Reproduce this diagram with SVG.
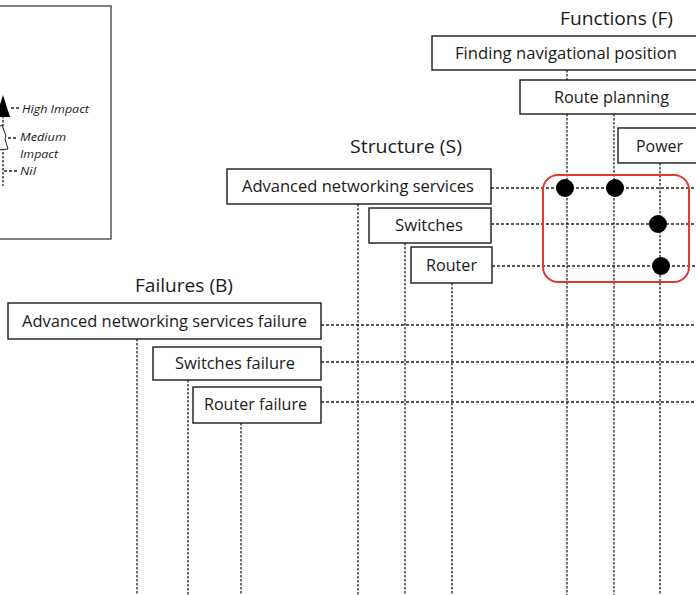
<svg xmlns="http://www.w3.org/2000/svg" width="696" height="595" viewBox="0 0 696 595">
  <style>
    .box { fill: #ffffff; stroke: #1a1a1a; stroke-width: 1.4; }
    .lbl { font-family: "Open Sans", "Liberation Sans", Arial, sans-serif; font-size: 15.5px; fill: #1a1a1a; }
    .ttl { font-family: "Open Sans", "Liberation Sans", Arial, sans-serif; font-size: 17.5px; fill: #1a1a1a; }
    .leg { font-family: "Open Sans", "Liberation Sans", Arial, sans-serif; font-size: 10.5px; font-style: italic; fill: #1a1a1a; }
    .dash { stroke: #222; stroke-width: 1.4; stroke-dasharray: 3 2; fill: none; }
    .vdash { stroke: #333; stroke-width: 1.4; stroke-dasharray: 2.5 1.5; fill: none; }
    .dot { fill: #000000; }
  </style>

  <rect width="696" height="595" fill="#ffffff"/>

  <!-- legend panel -->
  <g id="legend">
    <rect x="-2" y="6" width="113" height="233" fill="#ffffff" stroke="#555" stroke-width="1.5"/>
    <line x1="3" y1="116" x2="3" y2="186" class="vdash" stroke-width="1"/>
    <polygon points="3,95 10,117 -4,117" fill="#000"/>
    <line x1="11" y1="108" x2="19" y2="108" class="dash" stroke-width="1"/>
    <polyline points="-2,127 2,125 6,136 5,139 8,149 -2,150" fill="#fff" stroke="#222" stroke-width="1"/>
    <line x1="8" y1="138" x2="18" y2="138" class="dash" stroke-width="1"/>
    <line x1="4" y1="171" x2="18" y2="171" class="dash" stroke-width="1"/>
    <text x="22" y="113" class="leg" textLength="67" lengthAdjust="spacingAndGlyphs">High Impact</text>
    <text x="20" y="141" class="leg" textLength="46" lengthAdjust="spacingAndGlyphs">Medium</text>
    <text x="20" y="158" class="leg" textLength="38" lengthAdjust="spacingAndGlyphs">Impact</text>
    <text x="20" y="175" class="leg" textLength="16" lengthAdjust="spacingAndGlyphs">Nil</text>
  </g>

  <!-- connector grid -->
  <g id="connectors">
    <!-- function columns -->
    <line x1="567" y1="70" x2="567" y2="595" class="vdash"/>
    <line x1="614" y1="114" x2="614" y2="595" class="vdash"/>
    <line x1="660" y1="163" x2="660" y2="595" class="vdash"/>
    <!-- structure columns -->
    <line x1="358" y1="204" x2="358" y2="595" class="vdash"/>
    <line x1="405" y1="243" x2="405" y2="595" class="vdash"/>
    <line x1="452" y1="283" x2="452" y2="595" class="vdash"/>
    <!-- failure columns -->
    <line x1="137" y1="339" x2="137" y2="595" class="vdash"/>
    <line x1="188" y1="380" x2="188" y2="595" class="vdash"/>
    <line x1="241" y1="423" x2="241" y2="595" class="vdash"/>
    <!-- structure rows -->
    <line x1="491" y1="188" x2="696" y2="188" class="dash"/>
    <line x1="491" y1="224" x2="696" y2="224" class="dash"/>
    <line x1="492" y1="266" x2="696" y2="266" class="dash"/>
    <!-- failure rows -->
    <line x1="321" y1="325" x2="696" y2="325" class="dash"/>
    <line x1="321" y1="362" x2="696" y2="362" class="dash"/>
    <line x1="321" y1="402" x2="696" y2="402" class="dash"/>
  </g>

  <!-- group titles -->
  <text x="560" y="25" class="ttl" textLength="113" lengthAdjust="spacingAndGlyphs">Functions (F)</text>
  <text x="350" y="153" class="ttl" textLength="112" lengthAdjust="spacingAndGlyphs">Structure (S)</text>
  <text x="135" y="292" class="ttl" textLength="98" lengthAdjust="spacingAndGlyphs">Failures (B)</text>

  <!-- functions -->
  <g id="f-navigation">
    <rect x="432" y="36" width="270" height="34" class="box"/>
    <text x="455" y="59" class="lbl" textLength="222" lengthAdjust="spacingAndGlyphs">Finding navigational position</text>
  </g>
  <g id="f-route">
    <rect x="520" y="80" width="182" height="34" class="box"/>
    <text x="554" y="103" class="lbl" textLength="115" lengthAdjust="spacingAndGlyphs">Route planning</text>
  </g>
  <g id="f-power">
    <rect x="618" y="128" width="84" height="35" class="box"/>
    <text x="636" y="152" class="lbl" textLength="47" lengthAdjust="spacingAndGlyphs">Power</text>
  </g>

  <!-- structure -->
  <g id="s-ans">
    <rect x="227" y="169" width="264" height="35" class="box"/>
    <text x="242" y="192" class="lbl" textLength="232" lengthAdjust="spacingAndGlyphs">Advanced networking services</text>
  </g>
  <g id="s-switches">
    <rect x="369" y="208" width="122" height="35" class="box"/>
    <text x="395" y="231" class="lbl" textLength="68" lengthAdjust="spacingAndGlyphs">Switches</text>
  </g>
  <g id="s-router">
    <rect x="411" y="247" width="81" height="36" class="box"/>
    <text x="426" y="271" class="lbl" textLength="51" lengthAdjust="spacingAndGlyphs">Router</text>
  </g>

  <!-- failures -->
  <g id="b-ans">
    <rect x="8" y="303" width="313" height="36" class="box"/>
    <text x="22" y="327" class="lbl" textLength="285" lengthAdjust="spacingAndGlyphs">Advanced networking services failure</text>
  </g>
  <g id="b-switches">
    <rect x="153" y="347" width="168" height="33" class="box"/>
    <text x="175" y="369" class="lbl" textLength="120" lengthAdjust="spacingAndGlyphs">Switches failure</text>
  </g>
  <g id="b-router">
    <rect x="193" y="387" width="128" height="36" class="box"/>
    <text x="204" y="410" class="lbl" textLength="103" lengthAdjust="spacingAndGlyphs">Router failure</text>
  </g>

  <!-- high impact marks -->
  <g id="impacts">
    <circle cx="565" cy="188" r="9" class="dot"/>
    <circle cx="615" cy="188" r="9" class="dot"/>
    <circle cx="658" cy="224" r="9" class="dot"/>
    <circle cx="661" cy="266" r="9" class="dot"/>
  </g>

  <!-- highlight frame -->
  <rect id="highlight" x="543" y="175" width="146" height="107" rx="15" ry="15" fill="none" stroke="#e0382f" stroke-width="2"/>
</svg>
